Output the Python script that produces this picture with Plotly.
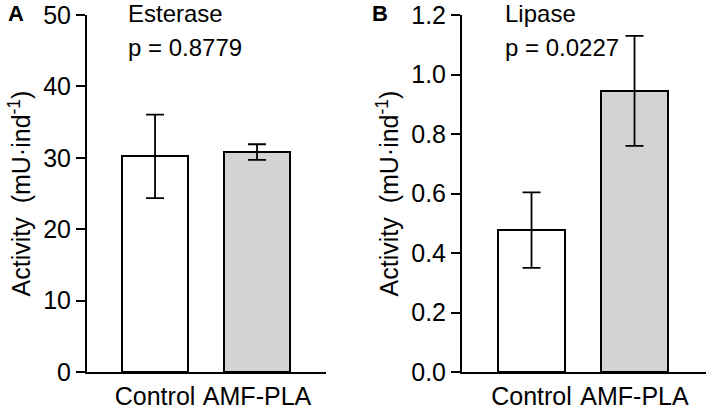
import plotly.graph_objects as go
from plotly.subplots import make_subplots

# Data
groups = ["Control", "AMF-PLA"]
esterase_mean = [30.2, 30.8]
esterase_err = [5.85, 1.1]
lipase_mean = [0.477, 0.945]
lipase_err = [0.127, 0.185]
p_values = ["p = 0.8779", "p = 0.0227"]
bar_colors = ["white", "#d3d3d3"]

FONT = "Arial, Liberation Sans, sans-serif"
W, H = 706, 410

# plot area in window pixels
TOP, BOT = 15, 372

fig = make_subplots(rows=1, cols=2)

for col, (means, errs) in enumerate([(esterase_mean, esterase_err),
                                     (lipase_mean, lipase_err)], start=1):
    fig.add_trace(go.Bar(
        x=[0, 1], y=means, width=0.65,
        marker=dict(color=bar_colors, line=dict(color="black", width=2)),
        error_y=dict(type="data", array=errs, visible=True,
                     color="black", thickness=1.8, width=9),
        showlegend=False, hoverinfo="skip"), row=1, col=col)

# panel domains in pixels
fig.update_xaxes(domain=[87 / W, 326 / W], range=[-0.667, 1.676], row=1, col=1)
fig.update_xaxes(domain=[462 / W, 1.0], range=[-0.675, 1.694], row=1, col=2)

fig.update_xaxes(tickvals=[0, 1], ticktext=groups, showline=True,
                 linecolor="black", linewidth=2, ticks="", showgrid=False,
                 zeroline=False, ticklabelstandoff=1,
                 tickfont=dict(size=25, color="black"))

fig.update_yaxes(range=[0, 50], tickvals=[0, 10, 20, 30, 40, 50], row=1, col=1)
fig.update_yaxes(range=[0, 1.2], tickvals=[0, 0.2, 0.4, 0.6, 0.8, 1.0, 1.2],
                 tickformat=".1f", row=1, col=2)
fig.update_yaxes(showline=True, linecolor="black", linewidth=2, ticks="outside",
                 ticklen=9, tickwidth=2, tickcolor="black", showgrid=False,
                 zeroline=False, tickfont=dict(size=25, color="black"),
                 ticklabeloverflow="allow",
                 title=dict(text="Activity  (mU·ind<sup>-1</sup>)",
                            font=dict(size=25, color="black"), standoff=5))

annotations = [
    ("A", 8, 13, True),
    ("B", 372, 13, True),
    ("Esterase", 128, 13, False),
    (p_values[0], 128, 47, False),
    ("Lipase", 505, 13, False),
    (p_values[1], 505, 47, False),
]
for text, x, y, bold in annotations:
    fig.add_annotation(
        text=f"<b>{text}</b>" if bold else text,
        x=(x - 2) / W, y=1 - (y - TOP) / (BOT - TOP),
        xref="paper", yref="paper", xanchor="left", yanchor="middle",
        showarrow=False, font=dict(size=22 if bold else 24, color="black"))

fig.update_layout(width=W, height=H, margin=dict(l=0, r=0, t=TOP, b=H - BOT),
                  plot_bgcolor="white", paper_bgcolor="white",
                  font=dict(family=FONT, color="black"), bargap=0)

# drop the browser's default body margin so the figure sits at the window corner
fig.write_html("out.html", config={"displayModeBar": False},
               post_script="document.body.style.margin = '0';")
